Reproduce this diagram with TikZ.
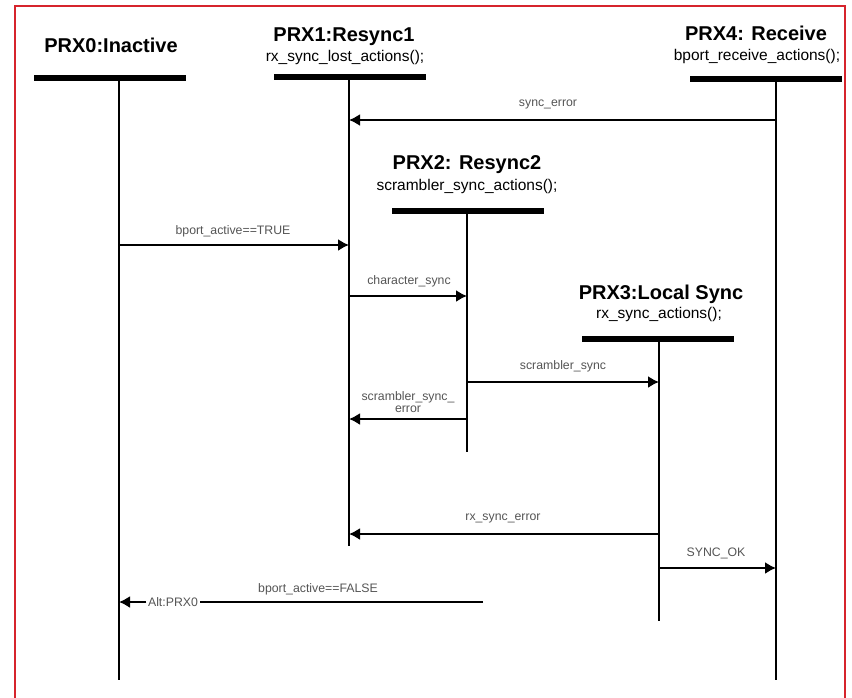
\documentclass[tikz,border=0pt]{standalone}
\usepackage{fontspec}
\setmainfont{Liberation Sans}
\usetikzlibrary{arrows.meta}
\definecolor{framered}{RGB}{214,36,44}
\definecolor{labelgray}{RGB}{85,85,85}
\tikzset{
  title/.style={font=\fontsize{20}{22}\selectfont\bfseries, inner sep=0pt, anchor=base},
  subtitle/.style={font=\fontsize{15.5}{17}\selectfont, inner sep=0pt, anchor=base},
  headbar/.style={fill=black, minimum width=152pt, minimum height=6.5pt, inner sep=0pt},
  lifeline/.style={line width=1.8pt},
  arrowtip/.style={-{Latex[length=11pt,width=12pt]}},
  msg/.style={line width=1.8pt, arrowtip},
  msglabel/.style={font=\fontsize{12.3}{11.5}\selectfont, text=labelgray, inner sep=0pt, align=center},
}
\begin{document}
\begin{tikzpicture}[x=1pt,y=-1pt]
\useasboundingbox (0,0) rectangle (852,697);
\fill[white] (0,0) rectangle (852,697);
\draw[framered, line width=2.2pt] (15,720) -- (15,6) -- (845,6) -- (845,720);

% participant heads
\node[title] (t0) at (111,52) {PRX0:Inactive};
\node[headbar] (b0) at (110,78) {};
\node[title] (t1) at (344,41) {PRX1:Resync1};
\node[subtitle] (s1) at (345,61) {rx\_sync\_lost\_actions();};
\node[headbar] (b1) at (350,77) {};
\node[title] (t4) at (756,40) {PRX4: Receive};
\node[subtitle] (s4) at (757,60) {bport\_receive\_actions();};
\node[headbar] (b4) at (766,79) {};
\node[title] (t2) at (467,169) {PRX2: Resync2};
\node[subtitle] (s2) at (467,190) {scrambler\_sync\_actions();};
\node[headbar] (b2) at (468,211) {};
\node[title] (t3) at (661,299) {PRX3:Local Sync};
\node[subtitle] (s3) at (659,318) {rx\_sync\_actions();};
\node[headbar] (b3) at (658,339) {};

% lifelines
\coordinate (l0top) at (119,78);  \coordinate (l0end) at (119,680);
\coordinate (l1top) at (349,77);  \coordinate (l1end) at (349,546);
\coordinate (l4top) at (776,79);  \coordinate (l4end) at (776,680);
\coordinate (l2top) at (467,211); \coordinate (l2end) at (467,452);
\coordinate (l3top) at (659,339); \coordinate (l3end) at (659,621);
\foreach \a/\b in {l0top/l0end,l1top/l1end,l4top/l4end,l2top/l2end,l3top/l3end}
  \draw[lifeline] (\a) -- (\b);

% message rows
\coordinate (m1) at (0,120);
\coordinate (m2) at (0,245);
\coordinate (m3) at (0,296);
\coordinate (m4) at (0,382);
\coordinate (m5) at (0,419);
\coordinate (m6) at (0,534);
\coordinate (m7) at (0,568);
\coordinate (m8) at (0,602);
\coordinate (altstart) at (483,602);

\draw[msg] (l4top |- m1) -- (l1top |- m1);
\node[msglabel] (lab1) at (548,104) {sync\_error};
\draw[msg] (l0top |- m2) -- (l1top |- m2);
\node[msglabel] (lab2) at (233,231) {bport\_active==TRUE};
\draw[msg] (l1top |- m3) -- (l2top |- m3);
\node[msglabel] (lab3) at (409,281) {character\_sync};
\draw[msg] (l2top |- m4) -- (l3top |- m4);
\node[msglabel] (lab4) at (563,366) {scrambler\_sync};
\draw[msg] (l2top |- m5) -- (l1top |- m5);
\node[msglabel] (lab5) at (408,402) {scrambler\_sync\_\\error};
\draw[msg] (l3top |- m6) -- (l1top |- m6);
\node[msglabel] (lab6) at (503,518) {rx\_sync\_error};
\draw[msg] (l3top |- m7) -- (l4top |- m7);
\node[msglabel] (lab7) at (716,553) {SYNC\_OK};
\node[msglabel, fill=white, inner xsep=1.5pt, inner ysep=1pt] (alt) at (173,602) {Alt:PRX0};
\draw[line width=1.8pt] (altstart) -- (alt.east);
\draw[msg] (alt.west) -- (l0top |- m8);
\node[msglabel] (lab8) at (318,589) {bport\_active==FALSE};
\end{tikzpicture}
\end{document}
